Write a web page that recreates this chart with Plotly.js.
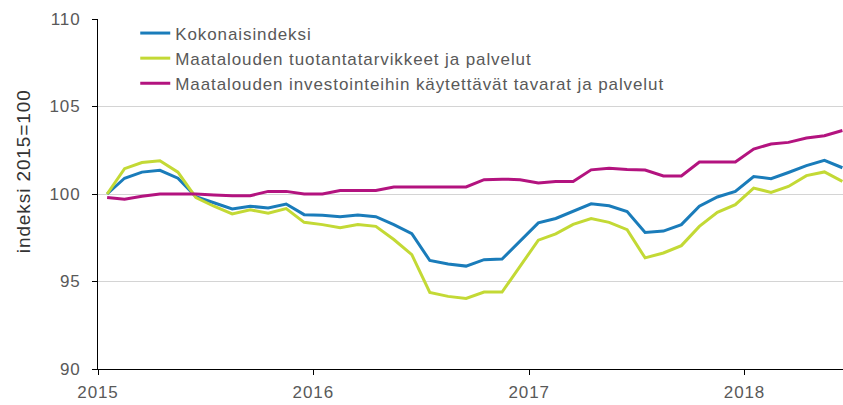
<!DOCTYPE html>
<html>
<head>
<meta charset="utf-8">
<script src="https://cdn.plot.ly/plotly-3.0.1.min.js"></script>
<style>
html,body{margin:0;padding:0;background:#fff;overflow:hidden;}
#chart{width:843px;height:405px;}
#chart .legendtext, #chart .ytick text, #chart .xtick text, #chart .annotation-text { letter-spacing: 0.9px; }
#chart .legend .scrollbox, #chart .legend g { clip-path: none !important; }
</style>
</head>
<body>
<div id="chart"></div>
<script>
var months = [
  "2015-01","2015-02","2015-03","2015-04","2015-05","2015-06","2015-07","2015-08","2015-09","2015-10","2015-11","2015-12",
  "2016-01","2016-02","2016-03","2016-04","2016-05","2016-06","2016-07","2016-08","2016-09","2016-10","2016-11","2016-12",
  "2017-01","2017-02","2017-03","2017-04","2017-05","2017-06","2017-07","2017-08","2017-09","2017-10","2017-11","2017-12",
  "2018-01","2018-02","2018-03","2018-04","2018-05","2018-06"
];
var seriesNames = [
  "Kokonaisindeksi",
  "Maatalouden tuotantatarvikkeet ja palvelut",
  "Maatalouden investointeihin käytettävät tavarat ja palvelut"
];
var kokonais = [
  100.0,100.9,101.25,101.35,100.9,99.85,99.5,99.15,99.3,99.2,99.43,98.82,
  98.78,98.7,98.8,98.7,98.25,97.73,96.2,96.0,95.88,96.25,96.28,97.3,
  98.35,98.6,99.0,99.44,99.33,99.0,97.8,97.88,98.25,99.3,99.83,100.15,
  101.0,100.87,101.23,101.62,101.92,101.5
];
var tuotanto = [
  100.0,101.45,101.8,101.9,101.25,99.8,99.3,98.86,99.1,98.9,99.17,98.38,
  98.25,98.07,98.25,98.15,97.4,96.53,94.38,94.15,94.03,94.4,94.4,95.86,
  97.36,97.72,98.26,98.6,98.38,97.96,96.35,96.63,97.05,98.15,98.95,99.39,
  100.34,100.09,100.43,101.05,101.26,100.72
];
var investointi = [
  99.8,99.7,99.87,100.0,100.0,100.0,99.95,99.9,99.9,100.15,100.15,100.0,
  100.0,100.2,100.2,100.2,100.4,100.4,100.4,100.4,100.4,100.82,100.85,100.82,
  100.63,100.72,100.72,101.38,101.47,101.4,101.37,101.03,101.03,101.83,101.83,101.83,
  102.57,102.86,102.95,103.2,103.33,103.63
];
var yTicks = [90, 95, 100, 105, 110];
var xTicks = ["2015-01-01","2016-01-01","2017-01-01","2018-01-01"];
var xTickText = ["2015","2016","2017","2018"];
var yTitle = "indeksi 2015=100";

var colors = ["#1a7cba", "#c3d935", "#b3137f"];
var values = [kokonais, tuotanto, investointi];

var traces = values.map(function(v, i){
  return {
    x: months, y: v, name: seriesNames[i], type: "scatter", mode: "lines",
    xperiod: "M1", xperiodalignment: "middle",
    line: {color: colors[i], width: 3}
  };
});

var layout = {
  width: 843, height: 405,
  margin: {l: 98, r: 0, t: 19, b: 36},
  paper_bgcolor: "#fff", plot_bgcolor: "#fff",
  font: {family: "Liberation Sans, Arial, sans-serif", size: 17, color: "#595959"},
  showlegend: true,
  legend: {x: 0.05, y: 1.01, xanchor: "left", yanchor: "top", bgcolor: "rgba(0,0,0,0)",
           font: {size: 17, color: "#595959"}, tracegroupgap: 0},
  xaxis: {
    type: "date",
    range: ["2015-01-01", "2018-06-17"],
    tickvals: xTicks, ticktext: xTickText,
    ticks: "outside", ticklen: 5, tickcolor: "#000", tickwidth: 1,
    showline: true, linecolor: "#000", linewidth: 1,
    showgrid: false, zeroline: false,
    ticklabelstandoff: 3,
    tickfont: {size: 17, color: "#595959"}
  },
  yaxis: {
    range: [90, 110],
    tickvals: yTicks,
    ticks: "outside", ticklen: 5, tickcolor: "#000", tickwidth: 1,
    showline: true, linecolor: "#000", linewidth: 1,
    showgrid: true, gridcolor: "#d4d4d4", gridwidth: 1,
    zeroline: false,
    ticklabelstandoff: 8,
    tickfont: {size: 17, color: "#595959"}
  },
  annotations: [{
    text: yTitle, xref: "paper", yref: "paper",
    x: -0.101, y: 0.565, xanchor: "center", yanchor: "middle",
    textangle: -90, showarrow: false,
    font: {size: 19, color: "#333"}
  }]
};

Plotly.newPlot("chart", traces, layout, {staticPlot: true, displayModeBar: false});
</script>
</body>
</html>
